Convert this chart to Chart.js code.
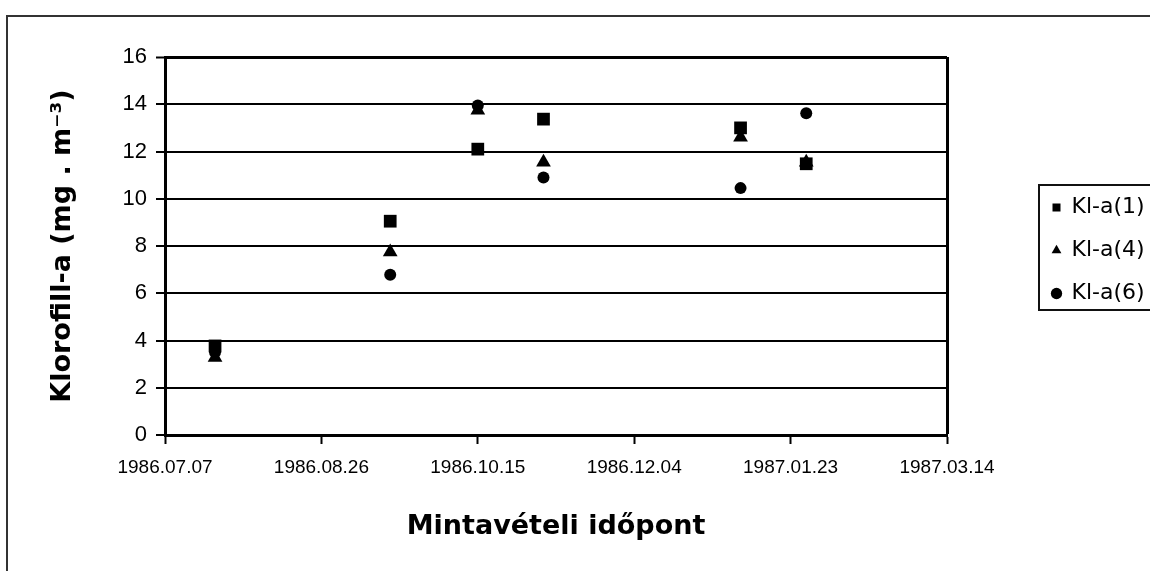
<!DOCTYPE html>
<html lang="hu">
<head>
<meta charset="utf-8">
<title>Klorofill-a</title>
<script src="https://cdn.jsdelivr.net/npm/chart.js@4.4.1/dist/chart.umd.min.js"></script>
<style>
    html, body { margin: 0; padding: 0; background: #fff; overflow: hidden; }
    #frame { position: absolute; left: 6px; top: 15px; width: 1200px; height: 600px; border: 2px solid #333; }
    #wrap { position: absolute; left: 0; top: 0; width: 1150px; height: 571px; }
</style>
</head>
<body>
<div id="frame"></div>
<div id="wrap"><canvas id="chlChart" width="1150" height="571"></canvas></div>
<script>
// mintavételi időpontok
const sampleDates = ['1986.07.23', '1986.09.17', '1986.10.15', '1986.11.05', '1987.01.07', '1987.01.28'];
const kla1 = [3.77, 9.05, 12.1, 13.37, 13.0, 11.48];
const kla4 = [3.28, 7.75, 13.75, 11.55, 12.6, 11.55];
const kla6 = [3.5, 6.78, 13.95, 10.9, 10.45, 13.62];
const seriesNames = ['Kl-a(1)', 'Kl-a(4)', 'Kl-a(6)'];
const seriesStyles = ['rect', 'triangle', 'circle'];
const seriesRadius = [9, 8.5, 6];

// x tengely: napok 1986.07.07-tól
const axisStart = '1986.07.07';
const xTickStep = 50;
const xMax = 250;
const yTicks = [0, 2, 4, 6, 8, 10, 12, 14, 16];

const DAY = 86400000;
const toUTC = (s) => {
    const [y, m, d] = s.split('.').map(Number);
    return Date.UTC(y, m - 1, d);
};
const dayOffset = (s) => Math.round((toUTC(s) - toUTC(axisStart)) / DAY);
const fmtDay = (v) => {
    const d = new Date(toUTC(axisStart) + v * DAY);
    const p = (n) => String(n).padStart(2, '0');
    return `${d.getUTCFullYear()}.${p(d.getUTCMonth() + 1)}.${p(d.getUTCDate())}`;
};

const makeSeries = (vals) => sampleDates.map((s, i) => ({ x: dayOffset(s), y: vals[i] }));

// jelmagyarázat a diagram jobb oldalán, keretben
const legendBox = {
    id: 'legendBox',
    afterLayout(chart) {
        const lg = chart.legend;
        const w = lg.width, h = lg.height;
        lg.left = 1031.5;
        lg.top = 175.5;
        lg.right = lg.left + w;
        lg.bottom = lg.top + h;
    },
    afterDraw(chart) {
        const ctx = chart.ctx;
        ctx.save();
        ctx.strokeStyle = '#111';
        ctx.lineWidth = 2;
        ctx.strokeRect(1039, 185, 140, 125);
        ctx.restore();
    }
};

const ctx = document.getElementById('chlChart').getContext('2d');
new Chart(ctx, {
    type: 'scatter',
    data: {
        datasets: [kla1, kla4, kla6].map((vals, i) => ({
            label: seriesNames[i],
            data: makeSeries(vals),
            pointStyle: seriesStyles[i],
            pointRadius: seriesRadius[i],
            pointHoverRadius: seriesRadius[i],
            backgroundColor: '#000',
            borderColor: '#000',
            borderWidth: 0,
            showLine: false
        }))
    },
    options: {
        responsive: false,
        devicePixelRatio: 1,
        animation: false,
        layout: {
            padding: { left: 0, top: 57, right: 203, bottom: 0 }
        },
        plugins: {
            tooltip: { enabled: false },
            legend: {
                position: 'chartArea',
                align: 'start',
                labels: {
                    usePointStyle: true,
                    boxWidth: 8,
                    boxHeight: 8,
                    padding: 21,
                    color: '#000',
                    font: { family: '"DejaVu Sans", "Liberation Sans", sans-serif', size: 22 }
                }
            }
        },
        scales: {
            x: {
                type: 'linear',
                min: 0,
                max: xMax,
                afterFit: (scale) => { scale.height = 136; },
                ticks: {
                    stepSize: xTickStep,
                    padding: 12,
                    color: '#000',
                    maxRotation: 0,
                    font: { family: '"Liberation Sans", Arial, sans-serif', size: 19 },
                    callback: (v) => fmtDay(v)
                },
                grid: {
                    color: (c) => (c.tick && c.tick.value === xMax ? '#000' : 'rgba(0,0,0,0)'),
                    lineWidth: (c) => (c.tick && c.tick.value === xMax ? 3 : 1),
                    tickColor: '#000',
                    tickWidth: 2,
                    tickLength: 9
                },
                border: { display: true, color: '#000', width: 3 },
                title: {
                    display: true,
                    text: 'Mintavételi időpont',
                    color: '#000',
                    padding: { top: 0, bottom: 28 },
                    font: { family: '"DejaVu Sans", "Liberation Sans", sans-serif', size: 27, weight: 'bold' }
                }
            },
            y: {
                min: yTicks[0],
                max: yTicks[yTicks.length - 1],
                afterFit: (scale) => { scale.width = 165; },
                afterBuildTicks: (scale) => { scale.ticks = yTicks.map(v => ({ value: v })); },
                ticks: {
                    padding: 9,
                    color: '#000',
                    font: { family: '"Liberation Sans", Arial, sans-serif', size: 22 }
                },
                grid: {
                    color: '#000',
                    lineWidth: (c) => (c.tick && c.tick.value === 16 ? 3 : 2),
                    tickColor: '#000',
                    tickWidth: 2,
                    tickLength: 9
                },
                border: { display: true, color: '#000', width: 3 },
                title: {
                    display: true,
                    text: 'Klorofill-a (mg . m⁻³)',
                    color: '#000',
                    padding: { top: 47, bottom: 0 },
                    font: { family: '"DejaVu Sans", "Liberation Sans", sans-serif', size: 27, weight: 'bold' }
                }
            }
        }
    },
    plugins: [legendBox]
});
</script>
</body>
</html>
